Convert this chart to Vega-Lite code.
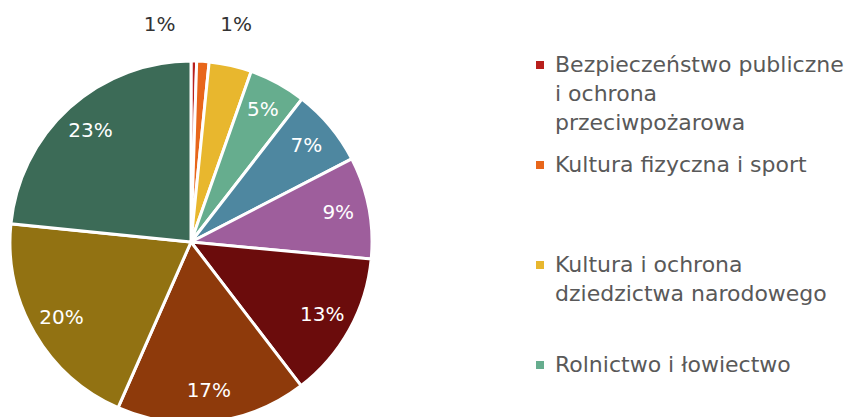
{
  "$schema": "https://vega.github.io/schema/vega-lite/v6.json",
  "width": 382,
  "height": 484,
  "autosize": {"type": "none"},
  "padding": {"left": 0, "top": 0, "right": 475, "bottom": -67},
  "background": "white",
  "data": {
    "values": [
      {"name": "Bezpieczeństwo publiczne i ochrona przeciwpożarowa", "value": 0.5, "label": "1%", "rank": 1},
      {"name": "Kultura fizyczna i sport", "value": 1.1, "label": "1%", "rank": 2},
      {"name": "Kultura i ochrona dziedzictwa narodowego", "value": 3.8, "label": "4%", "rank": 3},
      {"name": "Rolnictwo i łowiectwo", "value": 5.1, "label": "5%", "rank": 4},
      {"name": "Pomoc społeczna", "value": 6.9, "label": "7%", "rank": 5},
      {"name": "Administracja publiczna", "value": 9.1, "label": "9%", "rank": 6},
      {"name": "Gospodarka mieszkaniowa", "value": 13.1, "label": "13%", "rank": 7},
      {"name": "Gospodarka komunalna i ochrona środowiska", "value": 17.0, "label": "17%", "rank": 8},
      {"name": "Transport i łączność", "value": 20.0, "label": "20%", "rank": 9},
      {"name": "Oświata i wychowanie", "value": 23.4, "label": "23%", "rank": 10}
    ]
  },
  "encoding": {
    "theta": {"field": "value", "type": "quantitative", "stack": true},
    "order": {"field": "rank", "type": "quantitative", "sort": "ascending"}
  },
  "layer": [
    {
      "mark": {"type": "arc", "outerRadius": 181, "stroke": "white", "strokeWidth": 3},
      "encoding": {
        "color": {
          "field": "name",
          "type": "nominal",
          "scale": {
            "domain": [
              "Bezpieczeństwo publiczne i ochrona przeciwpożarowa",
              "Kultura fizyczna i sport",
              "Kultura i ochrona dziedzictwa narodowego",
              "Rolnictwo i łowiectwo",
              "Pomoc społeczna",
              "Administracja publiczna",
              "Gospodarka mieszkaniowa",
              "Gospodarka komunalna i ochrona środowiska",
              "Transport i łączność",
              "Oświata i wychowanie"
            ],
            "range": ["#B81F1C", "#E8661A", "#E8B72E", "#66AD8E", "#4E87A0", "#9E5E9C", "#6B0C0C", "#8E3A0B", "#927212", "#3C6B57"]
          },
          "legend": {
            "title": null,
            "orient": "none",
            "legendX": 529,
            "legendY": 54,
            "values": [
              "Bezpieczeństwo publiczne i ochrona przeciwpożarowa",
              "Kultura fizyczna i sport",
              "Kultura i ochrona dziedzictwa narodowego",
              "Rolnictwo i łowiectwo"
            ],
            "symbolType": "square",
            "symbolSize": 64,
            "symbolStrokeWidth": 0,
            "labelFont": "DejaVu Sans",
            "labelFontSize": 22,
            "labelColor": "#595959",
            "labelOffset": 4,
            "labelLimit": 600,
            "gridAlign": "all",
            "rowPadding": 20,
            "labelExpr": "datum.label === 'Bezpieczeństwo publiczne i ochrona przeciwpożarowa' ? ['Bezpieczeństwo publiczne', 'i ochrona', 'przeciwpożarowa'] : datum.label === 'Kultura i ochrona dziedzictwa narodowego' ? ['Kultura i ochrona', 'dziedzictwa narodowego'] : datum.label"
          }
        }
      }
    },
    {
      "mark": {"type": "text", "radius": 150, "font": "DejaVu Sans", "fontSize": 20, "color": "white"},
      "encoding": {
        "detail": {"field": "name", "type": "nominal"},
        "text": {"condition": {"test": "datum.value >= 4.5", "field": "label"}, "value": ""}
      }
    },
    {
      "mark": {"type": "text", "radius": 217, "font": "DejaVu Sans", "fontSize": 20, "color": "#333333", "align": "right", "dx": -19},
      "encoding": {
        "detail": {"field": "name", "type": "nominal"},
        "text": {"condition": {"test": "datum.rank === 1", "field": "label"}, "value": ""}
      }
    },
    {
      "mark": {"type": "text", "radius": 217, "font": "DejaVu Sans", "fontSize": 20, "color": "#333333", "align": "left", "dx": 15},
      "encoding": {
        "detail": {"field": "name", "type": "nominal"},
        "text": {"condition": {"test": "datum.rank === 2", "field": "label"}, "value": ""}
      }
    }
  ],
  "config": {
    "view": {"stroke": null},
    "style": {"guide-label": {"lineHeight": 29}}
  }
}
